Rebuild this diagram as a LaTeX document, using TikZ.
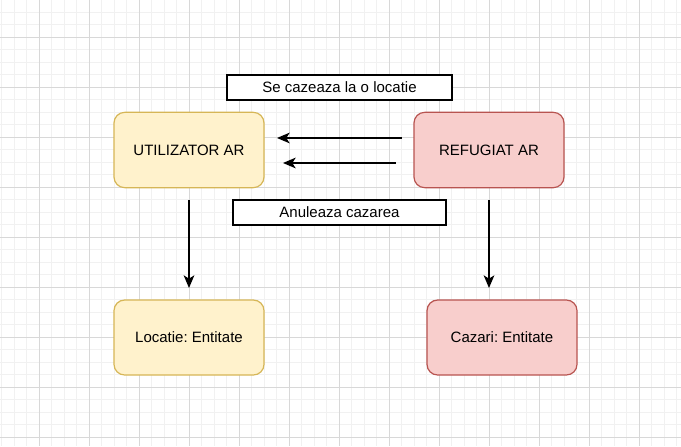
\documentclass[tikz,border=0pt]{standalone}
\usepackage{fontspec}
\setmainfont{Liberation Sans}
\usetikzlibrary{arrows.meta}
\frenchspacing
\definecolor{userfill}{HTML}{FFF2CC}
\definecolor{userline}{HTML}{D6B656}
\definecolor{reffill}{HTML}{F8CECC}
\definecolor{refline}{HTML}{B85450}
\definecolor{gridminor}{HTML}{F1F1F1}
\definecolor{gridmajor}{HTML}{D8D8D8}
\begin{document}
\begin{tikzpicture}[
        x=0.75pt, y=-0.75pt,
        font=\fontsize{11.25}{13.5}\selectfont,
        userbox/.style={rectangle, draw=userline, fill=userfill, line width=0.9pt, minimum width=112.5pt, minimum height=56.5pt, align=center, rounded corners=8pt},
        refbox/.style={rectangle, draw=refline, fill=reffill, line width=0.9pt, minimum width=112.5pt, minimum height=56.5pt, align=center, rounded corners=8pt},
        labelbox/.style={rectangle, draw=black, fill=white, line width=0.9pt, minimum height=18.75pt, inner sep=0pt, align=center},
        arrow/.style={line width=1pt, -{Stealth[length=9.5pt, width=8pt, inset=2.5pt]}}
    ]
        \useasboundingbox (0,0) rectangle (681,446);
        \fill[white] (0,0) rectangle (681,446);
        % background grid
        \foreach \gx in {0,...,54} \draw[gridminor, line width=0.6pt] (1.8+12.5*\gx,0) -- (1.8+12.5*\gx,446);
        \foreach \gy in {0,...,35} \draw[gridminor, line width=0.6pt] (0,12.3+12.5*\gy) -- (681,12.3+12.5*\gy);
        \foreach \gx in {0,...,12} \draw[gridmajor, line width=0.6pt] (39.3+50*\gx,0) -- (39.3+50*\gx,446);
        \foreach \gy in {0,...,8} \draw[gridmajor, line width=0.6pt] (0,37.3+50*\gy) -- (681,37.3+50*\gy);

        \node[userbox] (user) at (189,150) {UTILIZATOR AR};
        \node[refbox] (refugee) at (489,150) {REFUGIAT AR};
        \node[userbox, minimum height=56.25pt] (location) at (189,337.5) {Locatie: Entitate};
        \node[refbox, minimum height=56.25pt] (booking) at (502,337.5) {Cazari: Entitate};
        \node[labelbox, minimum width=168.75pt] (book) at (339.5,87.5) {Se cazeaza la o locatie};
        \node[labelbox, minimum width=159.75pt] (cancel) at (339.5,212.5) {Anuleaza cazarea};

        \coordinate (bookstart) at (402,138);
        \coordinate (bookend) at (277,138);
        \coordinate (cancelstart) at (396,163);
        \coordinate (cancelend) at (283,163);
        \coordinate (userdown) at (189,200);
        \coordinate (locationup) at (189,288);
        \coordinate (refugeedown) at (489,200);
        \coordinate (bookingup) at (489,288);

        \draw[arrow] (bookstart) -- (bookend);
        \draw[arrow] (cancelstart) -- (cancelend);
        \draw[arrow] (userdown) -- (locationup);
        \draw[arrow] (refugeedown) -- (bookingup);
    \end{tikzpicture}
\end{document}
